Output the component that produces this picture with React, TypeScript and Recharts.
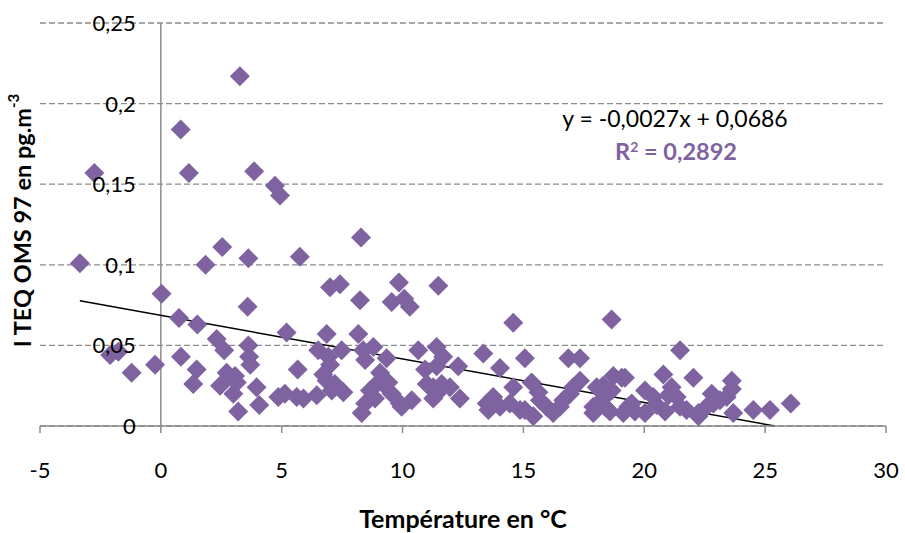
import React from 'react';
import {
  ScatterChart,
  Scatter,
  XAxis,
  YAxis,
  CartesianGrid,
  ReferenceLine,
  Customized,
  Label,
} from 'recharts';

// Air temperature (°C) and measured I-TEQ OMS 97 (pg.m-3), one entry per sample
const temperature = [
  -3.35, -2.75, -2.1, -1.76, -1.21, -0.24, 0.03, 0.75, 0.82, 0.83,
  1.16, 1.51, 1.48, 1.34, 1.85, 2.31, 2.54, 2.62, 2.45, 2.72,
  2.93, 3.07, 3.14, 3.0, 3.2, 3.27, 3.59, 3.62, 3.62, 3.65,
  3.7, 3.86, 3.96, 4.07, 4.72, 4.93, 4.86, 5.13, 5.2, 5.62,
  5.66, 5.75, 6.45, 6.51, 6.72, 6.86, 6.86, 6.93, 7.0, 7.0,
  7.07, 7.2, 7.41, 7.48, 7.55, 8.17, 8.24, 8.28, 8.37, 8.45,
  8.79, 8.65, 8.45, 8.31, 8.93, 9.07, 9.2, 9.34, 9.55, 9.55,
  9.85, 9.89, 9.96, 10.07, 10.3, 10.38, 10.65, 10.93, 11.0, 11.27,
  11.27, 11.41, 11.41, 11.41, 11.48, 11.62, 11.68, 11.96, 12.3, 12.37,
  13.34, 13.48, 13.55, 13.75, 14.03, 14.03, 14.44, 14.58, 14.58, 14.86,
  15.06, 15.06, 15.34, 15.41, 15.62, 15.68, 15.96, 16.23, 16.51, 16.65,
  16.86, 16.93, 17.06, 17.34, 17.34, 17.89, 17.89, 18.03, 18.3, 18.3,
  18.37, 18.58, 18.65, 18.65, 18.72, 19.07, 19.13, 19.34, 19.48, 19.61,
  20.03, 20.03, 20.37, 20.51, 20.79, 20.86, 21.13, 21.34, 21.48, 21.48,
  21.75, 22.03, 22.24, 22.24, 22.58, 22.79, 22.86, 23.13, 23.41, 23.62,
  23.62, 23.68, 24.51, 25.2, 26.06, 21.0, 8.86, 5.9, 9.41, 19.2,
];

const teq = [
  0.101, 0.157, 0.044, 0.046, 0.033, 0.038, 0.082, 0.067, 0.184, 0.043,
  0.157, 0.063, 0.035, 0.026, 0.100, 0.054, 0.111, 0.047, 0.025, 0.033,
  0.030, 0.031, 0.027, 0.020, 0.009, 0.217, 0.074, 0.104, 0.050, 0.043,
  0.038, 0.158, 0.024, 0.013, 0.149, 0.143, 0.018, 0.020, 0.058, 0.018,
  0.035, 0.105, 0.019, 0.047, 0.032, 0.057, 0.028, 0.043, 0.086, 0.038,
  0.022, 0.026, 0.088, 0.047, 0.021, 0.057, 0.078, 0.117, 0.047, 0.041,
  0.049, 0.022, 0.014, 0.008, 0.026, 0.033, 0.026, 0.042, 0.020, 0.077,
  0.089, 0.014, 0.012, 0.079, 0.074, 0.016, 0.047, 0.035, 0.026, 0.024,
  0.017, 0.049, 0.037, 0.020, 0.087, 0.026, 0.043, 0.024, 0.037, 0.017,
  0.045, 0.014, 0.010, 0.018, 0.036, 0.012, 0.014, 0.064, 0.024, 0.010,
  0.042, 0.010, 0.027, 0.006, 0.021, 0.016, 0.012, 0.008, 0.012, 0.016,
  0.042, 0.020, 0.024, 0.042, 0.028, 0.012, 0.008, 0.024, 0.025, 0.017,
  0.012, 0.009, 0.066, 0.022, 0.031, 0.030, 0.008, 0.012, 0.014, 0.009,
  0.022, 0.008, 0.018, 0.013, 0.032, 0.009, 0.024, 0.018, 0.047, 0.012,
  0.010, 0.030, 0.008, 0.006, 0.012, 0.020, 0.014, 0.016, 0.018, 0.028,
  0.023, 0.008, 0.010, 0.010, 0.014, 0.019, 0.017, 0.017, 0.027, 0.030,
];

const xTicks = [-5, 0, 5, 10, 15, 20, 25, 30];
const yTicks = [0, 0.05, 0.1, 0.15, 0.2, 0.25];

// Linear trend fitted on the samples
const slope = -0.0027;
const intercept = 0.0686;
const rSquared = 0.2892;
const trendStart = -3.35;

const purple = '#7F63A1';
const axisGrey = '#8C8C8C';
const font = 'Lato, "Open Sans", sans-serif';

const W = 905;
const H = 533;
const margin = { top: 23, right: 19, bottom: 47, left: 0 };
const yAxisWidth = 40;
const xDomain: [number, number] = [-5, 30];

const data = temperature.map((t, i) => ({ t, v: teq[i] }));

const fmt = (v: number) => String(v).replace('.', ',');

// Horizontal position of x = 0, where the value axis crosses the category axis
const plotLeft = margin.left + yAxisWidth;
const plotWidth = W - plotLeft - margin.right;
const zeroX = plotLeft + ((0 - xDomain[0]) / (xDomain[1] - xDomain[0])) * plotWidth;

const Diamond = (props: any) => {
  const { cx, cy } = props;
  const r = 10;
  return (
    <polygon
      points={`${cx},${cy - r} ${cx + r},${cy} ${cx},${cy + r} ${cx - r},${cy}`}
      fill={purple}
    />
  );
};

const YTick = (props: any) => {
  const { y, payload } = props;
  return (
    <text x={zeroX - 25} y={y + 8} textAnchor="end" fontFamily={font} fontSize={22} fill="#000">
      {fmt(payload.value)}
    </text>
  );
};

const YTitle = (props: any) => {
  const vb = props.viewBox || {};
  const cx = vb.x + vb.width / 2 + 2;
  const cy = vb.y + vb.height / 2 - 4;
  return (
    <text
      x={cx}
      y={cy}
      transform={`rotate(-90, ${cx}, ${cy})`}
      textAnchor="middle"
      dominantBaseline="central"
      fontFamily={font}
      fontWeight="bold"
      fontSize={23.5}
      fill="#000"
    >
      I TEQ OMS 97 en pg.m
      <tspan dy={-9} fontSize={15}>-3</tspan>
    </text>
  );
};

const Equation = () => (
  <g fontFamily={font}>
    <text x={675} y={127} textAnchor="middle" fontSize={23} fill="#000">
      y = -0,0027x + 0,0686
    </text>
    <text x={676} y={160} textAnchor="middle" fontSize={23.5} fontWeight="bold" fill={purple}>
      R<tspan dy={-8} fontSize={14}>2</tspan>
      <tspan dy={8}> = {fmt(rSquared)}</tspan>
    </text>
  </g>
);

export default function App() {
  const trendEnd = -intercept / slope;
  return (
    <div style={{ position: 'absolute', left: 0, top: 0, background: '#fff' }}>
      <ScatterChart width={W} height={H} margin={margin}>
        <CartesianGrid
          vertical={false}
          stroke={axisGrey}
          strokeWidth={1.3}
          strokeDasharray="6 3"
        />
        <XAxis
          type="number"
          dataKey="t"
          domain={xDomain}
          ticks={xTicks}
          interval={0}
          height={60}
          stroke={axisGrey}
          strokeWidth={1.5}
          tickSize={7}
          tickMargin={29}
          tick={{ fill: '#000', fontSize: 22, fontFamily: font }}
        >
          <Label
            value="Température en °C"
            position="bottom"
            offset={24}
            style={{ fontFamily: font, fontWeight: 'bold', fontSize: 25, fill: '#000' }}
          />
        </XAxis>
        <YAxis
          type="number"
          dataKey="v"
          domain={[0, 0.25]}
          ticks={yTicks}
          interval={0}
          width={yAxisWidth}
          axisLine={false}
          tickLine={false}
          tick={<YTick />}
        >
          <Label position="center" content={<YTitle />} />
        </YAxis>
        <ReferenceLine x={0} stroke={axisGrey} strokeWidth={1.5} />
        <ReferenceLine
          segment={[
            { x: trendStart, y: intercept + slope * trendStart },
            { x: trendEnd, y: 0 },
          ]}
          stroke="#000"
          strokeWidth={1.5}
        />
        <Scatter data={data} shape={<Diamond />} isAnimationActive={false} />
        <Customized component={<Equation />} />
      </ScatterChart>
    </div>
  );
}
